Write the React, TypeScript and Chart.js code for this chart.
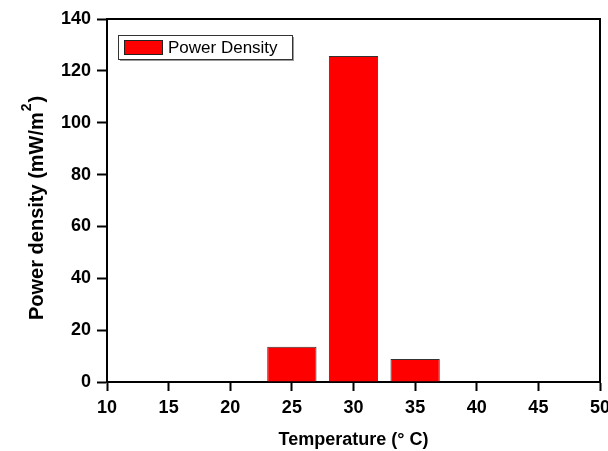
import React, { useEffect, useRef } from "react";
import { Chart, registerables } from "chart.js";

Chart.register(...registerables);

const temperatures = [25, 30, 35];
const powerDensity = [13.6, 125.7, 8.9];
const seriesLabel = "Power Density";
const xTitle = "Temperature (\u00B0 C)";
const yTitleMain = "Power density (mW/m";
const yTitleSup = "2";
const yTitleEnd = ")";

const FONT = "'Liberation Sans', Arial, sans-serif";

const framePlugin = {
  id: "frame",
  afterDatasetsDraw(chart: any) {
    const { ctx, chartArea } = chart;
    ctx.save();
    ctx.strokeStyle = "#000";
    ctx.lineWidth = 2;
    ctx.beginPath();
    ctx.moveTo(chartArea.left, chartArea.top);
    ctx.lineTo(chartArea.right, chartArea.top);
    ctx.lineTo(chartArea.right, chartArea.bottom);
    ctx.stroke();
    ctx.restore();
  },
};

const yTitlePlugin = {
  id: "yTitleSup",
  afterDraw(chart: any) {
    const { ctx, chartArea } = chart;
    ctx.save();
    ctx.translate(43, chartArea.bottom - 62);
    ctx.rotate(-Math.PI / 2);
    ctx.fillStyle = "#000";
    ctx.textAlign = "left";
    ctx.textBaseline = "alphabetic";
    ctx.font = `bold 20px ${FONT}`;
    ctx.fillText(yTitleMain, 0, 0);
    let x = ctx.measureText(yTitleMain).width;
    ctx.font = `bold 14px ${FONT}`;
    ctx.fillText(yTitleSup, x + 1, -12);
    x += ctx.measureText(yTitleSup).width + 2;
    ctx.font = `bold 20px ${FONT}`;
    ctx.fillText(yTitleEnd, x, 0);
    ctx.restore();
  },
};

const legendPlugin = {
  id: "boxLegend",
  afterDraw(chart: any) {
    const { ctx, chartArea } = chart;
    const ds = chart.data.datasets[0];
    const x = chartArea.left + 11;
    const y = chartArea.top + 16;
    const w = 174;
    const h = 24;
    ctx.save();
    ctx.fillStyle = "#9a9a9a";
    ctx.fillRect(x + 2, y + 2, w, h);
    ctx.fillStyle = "#fff";
    ctx.fillRect(x, y, w, h);
    ctx.strokeStyle = "#333";
    ctx.lineWidth = 1;
    ctx.strokeRect(x + 0.5, y + 0.5, w, h);
    ctx.fillStyle = ds.backgroundColor;
    ctx.fillRect(x + 6, y + 5, 38, 14);
    ctx.strokeStyle = "#222";
    ctx.strokeRect(x + 6.5, y + 5.5, 38, 14);
    ctx.fillStyle = "#000";
    ctx.font = `17px ${FONT}`;
    ctx.textBaseline = "middle";
    ctx.textAlign = "left";
    ctx.fillText(ds.label, x + 50, y + h / 2 + 1);
    ctx.restore();
  },
};

export default function App() {
  const ref = useRef<HTMLCanvasElement>(null);
  useEffect(() => {
    document.body.style.margin = "0";
    const chart = new Chart(ref.current!, {
      type: "bar",
      data: {
        datasets: [
          {
            label: seriesLabel,
            data: temperatures.map((t, i) => ({ x: t, y: powerDensity[i] })),
            backgroundColor: "#FF0000",
            borderColor: "#333333",
            borderWidth: 1,
            barPercentage: 1.0,
            categoryPercentage: 0.8,
          },
        ],
      },
      options: {
        responsive: false,
        animation: false,
        layout: { padding: { left: 0, top: 19, right: 8, bottom: 0 } },
        plugins: { legend: { display: false }, tooltip: { enabled: false } },
        scales: {
          x: {
            type: "linear",
            min: 10,
            max: 50,
            offset: false,
            ticks: {
              stepSize: 5,
              color: "#000",
              font: { family: FONT, size: 18, weight: "bold" },
              padding: 6,
              maxRotation: 0,
            },
            grid: {
              offset: false,
              drawOnChartArea: false,
              drawTicks: true,
              tickLength: 9,
              tickWidth: 2,
              tickColor: "#000",
            },
            border: { display: true, color: "#000", width: 2 },
            title: {
              display: true,
              text: xTitle,
              color: "#000",
              font: { family: FONT, size: 18, weight: "bold" },
              padding: { top: 0, bottom: 0 },
            },
            afterFit(scale: any) {
              scale.height = 69;
              scale.paddingLeft = 0;
              scale.paddingRight = 0;
            },
          },
          y: {
            type: "linear",
            min: 0,
            max: 140,
            ticks: {
              stepSize: 20,
              color: "#000",
              font: { family: FONT, size: 18, weight: "bold" },
              padding: 6,
            },
            grid: {
              drawOnChartArea: false,
              drawTicks: true,
              tickLength: 10,
              tickWidth: 2,
              tickColor: "#000",
            },
            border: { display: true, color: "#000", width: 2 },
            title: { display: false },
            afterFit(scale: any) {
              scale.width = 107;
            },
          },
        },
      },
      plugins: [framePlugin, legendPlugin, yTitlePlugin],
    } as any);
    return () => chart.destroy();
  }, []);
  return (
    <div style={{ position: "fixed", left: 0, top: 0, width: 608, height: 451, background: "#fff" }}>
      <canvas ref={ref} width={608} height={451} />
    </div>
  );
}
